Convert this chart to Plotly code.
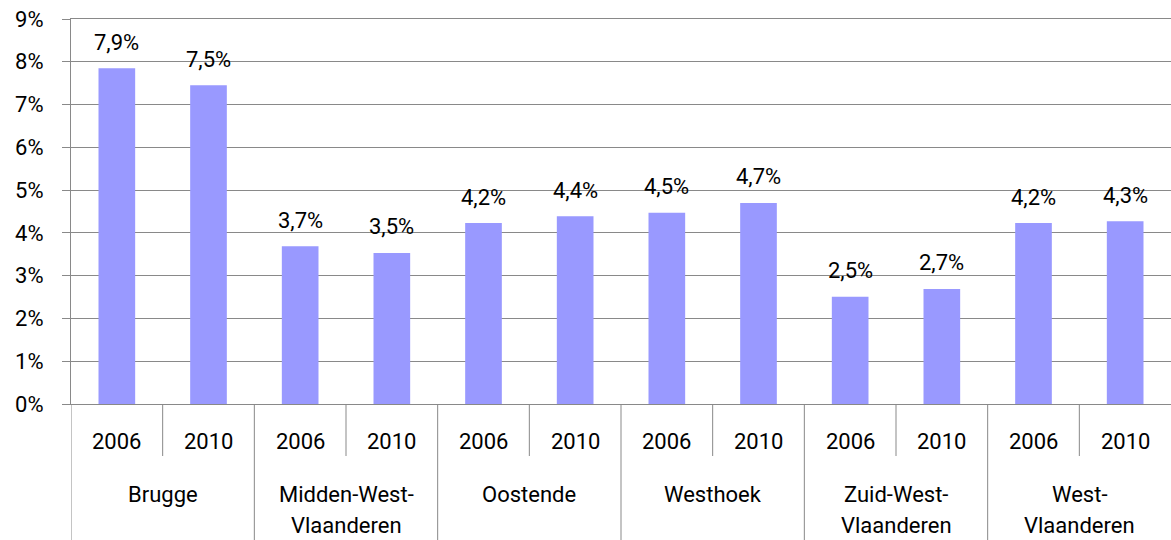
import plotly.graph_objects as go

regions = ["Brugge", "Brugge", "Midden-West-<br>Vlaanderen", "Midden-West-<br>Vlaanderen",
           "Oostende", "Oostende", "Westhoek", "Westhoek",
           "Zuid-West-<br>Vlaanderen", "Zuid-West-<br>Vlaanderen",
           "West-<br>Vlaanderen", "West-<br>Vlaanderen"]
years = ["2006", "2010"] * 6
values = [7.85, 7.45, 3.69, 3.53, 4.23, 4.39, 4.47, 4.70, 2.51, 2.69, 4.23, 4.27]
labels = ["7,9%", "7,5%", "3,7%", "3,5%", "4,2%", "4,4%", "4,5%", "4,7%",
          "2,5%", "2,7%", "4,2%", "4,3%"]
y_ticks = list(range(0, 10))

FONT = "Roboto"
FS = 22
GRID = "#898989"
W, H = 1171, 540
ML, MT, MB = 71, 19, 136
PLOT_H = H - MT - MB

idx = list(range(len(values)))

fig = go.Figure()
fig.add_trace(go.Bar(
    x=idx, y=values,
    marker=dict(color="#9999ff", line=dict(width=0)),
    width=0.4,
    hoverinfo="skip",
))

# data labels
for i, v, t in zip(idx, values, labels):
    fig.add_annotation(x=i, y=v, text=t, showarrow=False,
                       yanchor="middle", yshift=26,
                       font=dict(family=FONT, size=FS, color="#000"))

# year labels
for i, yr in zip(idx, years):
    fig.add_annotation(x=i, y=0, xref="x", yref="paper", text=yr, showarrow=False,
                       yanchor="middle", yshift=-37,
                       font=dict(family=FONT, size=FS, color="#000"))

# region groups
groups = []
for i, r in zip(idx, regions):
    if groups and groups[-1][0] == r:
        groups[-1][2] = i
    else:
        groups.append([r, i, i])

for r, a, b in groups:
    center = (a + b) / 2
    for k, line in enumerate(r.split("<br>")):
        fig.add_annotation(x=center, y=0, xref="x", yref="paper", text=line,
                           showarrow=False, yanchor="middle", yshift=-90 - 31 * k,
                           font=dict(family=FONT, size=FS, color="#000"))

inner_len = 52 / PLOT_H
outer_len = MB / PLOT_H
for r, a, b in groups:
    for i in range(a, b):
        fig.add_shape(type="line", xref="x", yref="paper", x0=i + 0.5, x1=i + 0.5,
                      y0=0, y1=-inner_len, line=dict(color=GRID, width=1))
for r, a, b in groups:
    fig.add_shape(type="line", xref="x", yref="paper", x0=a - 0.5, x1=a - 0.5,
                  y0=0, y1=-outer_len, line=dict(color=GRID, width=1))

fig.update_layout(
    width=W, height=H,
    margin=dict(l=ML, r=0, t=MT, b=MB, autoexpand=False),
    paper_bgcolor="white", plot_bgcolor="white",
    showlegend=False,
    font=dict(family=FONT, size=FS, color="#000"),
)
fig.update_yaxes(
    range=[0, y_ticks[-1]], tickvals=y_ticks, ticktext=[f"{v}%" for v in y_ticks],
    showgrid=True, gridcolor=GRID, gridwidth=1,
    showline=True, linecolor=GRID, linewidth=1,
    ticks="outside", ticklen=8, tickcolor=GRID,
    ticklabelstandoff=14,
    zeroline=False, tickfont=dict(family=FONT, size=FS),
    fixedrange=True,
)
fig.update_xaxes(
    range=[-0.5, len(values) - 0.5],
    showticklabels=False, showgrid=False, zeroline=False,
    showline=True, mirror=True, linecolor=GRID, linewidth=1,
    fixedrange=True,
)

fig.write_html("out.html", config={"displayModeBar": False},
               post_script="document.body.style.margin='0';")
